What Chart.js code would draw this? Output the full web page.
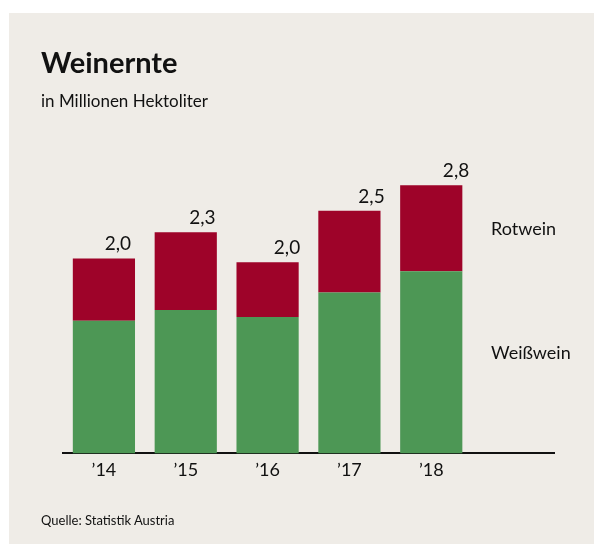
<!DOCTYPE html>
<html>
<head>
<meta charset="utf-8">
<script src="https://cdn.jsdelivr.net/npm/chart.js@4"></script>
<style>
  html, body { margin: 0; padding: 0; background: #ffffff; }
  #panel { position: absolute; left: 9px; top: 13px; width: 585px; height: 531px; background: #efece7; }
  #chartBox { position: absolute; left: 0; top: 0; width: 594px; height: 545px; }
  .txt { position: absolute; font-family: Lato, sans-serif; color: #111; line-height: 1; white-space: nowrap; }
  #title { left: 41px; top: 47px; font-size: 29px; font-weight: bold; }
  #subtitle { left: 41px; top: 92px; font-size: 17px; }
  #source { left: 41px; top: 514px; font-size: 13px; }
</style>
</head>
<body>
<div id="panel"></div>
<div id="chartBox"><canvas id="chart"></canvas></div>
<div class="txt" id="title">Weinernte</div>
<div class="txt" id="subtitle">in Millionen Hektoliter</div>
<div class="txt" id="source">Quelle: Statistik Austria</div>
<script>
// Weinernte Österreich, Mio. hl
const jahre = ['’14', '’15', '’16', '’17', '’18', ''];
const weisswein = [1.36, 1.47, 1.40, 1.65, 1.87, null];
const rotwein = [0.64, 0.80, 0.56, 0.84, 0.88, null];
const summen = ['2,0', '2,3', '2,0', '2,5', '2,8'];
const serienNamen = ['Weißwein', 'Rotwein'];
// Höhe der Serienbeschriftung rechts (in Mio. hl)
const namenPos = [1.03, 2.30];

const rot = '#9e0329';
const gruen = '#4d9755';

// Summen über den Balken + Serienbeschriftung rechts
const labelPlugin = {
  id: 'labels',
  afterDatasetsDraw(chart) {
    const ctx = chart.ctx;
    const x = chart.scales.x, y = chart.scales.y;
    ctx.save();
    ctx.fillStyle = '#111';
    ctx.font = '19px Lato, sans-serif';
    ctx.textAlign = 'center';
    ctx.textBaseline = 'alphabetic';
    summen.forEach((s, i) => {
      const top = weisswein[i] + rotwein[i];
      // Summen sitzen etwas rechts von der Balkenmitte
      ctx.fillText(s, x.getPixelForValue(i) + 14 + 2.7 * i, y.getPixelForValue(top) - 8);
    });
    ctx.font = '18px Lato, sans-serif';
    ctx.textAlign = 'left';
    ctx.textBaseline = 'middle';
    const lx = x.getPixelForValue(5) - 22;
    serienNamen.forEach((n, i) => {
      ctx.fillText(n, lx, y.getPixelForValue(namenPos[i]));
    });
    ctx.restore();
  }
};

new Chart(document.getElementById('chart'), {
  type: 'bar',
  data: {
    labels: jahre,
    datasets: [
      { label: serienNamen[0], data: weisswein, backgroundColor: gruen },
      { label: serienNamen[1], data: rotwein, backgroundColor: rot }
    ]
  },
  options: {
    responsive: true,
    maintainAspectRatio: false,
    animation: false,
    layout: { padding: { left: 63, right: 40, top: 161, bottom: 58 } },
    datasets: { bar: { categoryPercentage: 1, barPercentage: 0.76 } },
    plugins: { legend: { display: false }, tooltip: { enabled: false } },
    scales: {
      x: {
        stacked: true,
        grid: { display: false, drawTicks: false },
        border: { display: true, color: '#111', width: 2 },
        ticks: { color: '#111', font: { family: 'Lato', size: 18 }, padding: 6 }
      },
      y: {
        stacked: true,
        display: false,
        min: 0,
        max: 3
      }
    }
  },
  plugins: [labelPlugin]
});
</script>
</body>
</html>
